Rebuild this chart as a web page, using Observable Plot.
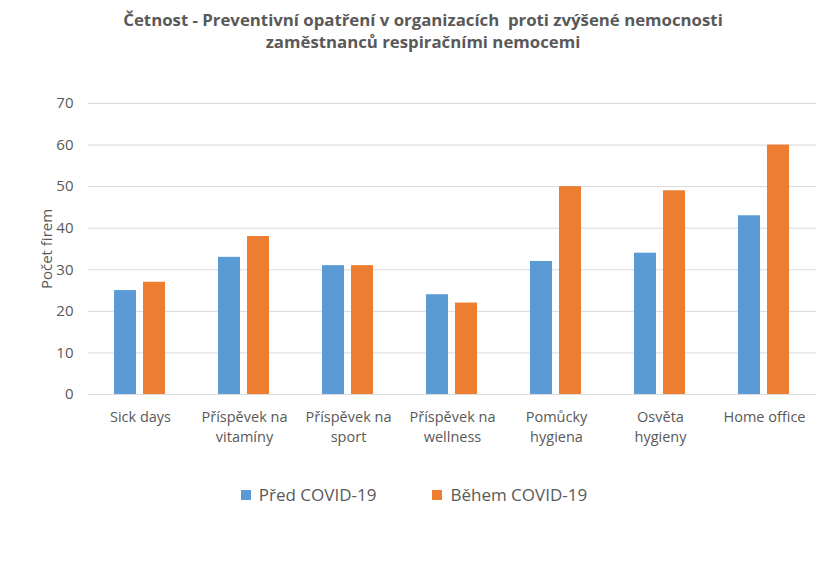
<!DOCTYPE html>
<html><head><meta charset="utf-8">
<script src="https://cdn.jsdelivr.net/npm/d3@7"></script>
<script src="https://cdn.jsdelivr.net/npm/@observablehq/plot@0.6"></script>
<style>
body{margin:0;background:#fff;width:836px;height:570px;position:relative;font-family:"Open Sans",sans-serif;color:#595959;overflow:hidden}
#title{position:absolute;top:9px;left:0;width:846px;text-align:center;font-weight:bold;font-size:16.8px;line-height:22px;color:#595959}
#chart{position:absolute;top:65px;left:0}
#legend{position:absolute;top:483px;left:0;width:828px;display:flex;justify-content:center;gap:0;font-size:17px;color:#595959}
.li{display:flex;align-items:center;margin:0 0px}
.sw{width:10px;height:10px;margin-right:8px}
</style></head><body>
<div id="title">Četnost - Preventivní opatření v organizacích&nbsp; proti zvýšené nemocnosti<br>zaměstnanců respiračními nemocemi</div>
<div id="chart"></div>
<div id="legend"></div>
<script>
const categories = ["Sick days","Příspěvek na vitamíny","Příspěvek na sport","Příspěvek na wellness","Pomůcky hygiena","Osvěta hygieny","Home office"];
const categoryLabels = ["Sick days","Příspěvek na\nvitamíny","Příspěvek na\nsport","Příspěvek na\nwellness","Pomůcky\nhygiena","Osvěta\nhygieny","Home office"];
const series = ["Před COVID-19","Během COVID-19"];
const predCovid = [25,33,31,24,32,34,43];
const behemCovid = [27,38,31,22,50,49,60];
const colors = ["#5B9BD5","#ED7D31"];
const yTicks = [0,10,20,30,40,50,60,70];

const data = [];
categories.forEach((c,i)=>{
  data.push({cat:c, s:series[0], v:predCovid[i]});
  data.push({cat:c, s:series[1], v:behemCovid[i]});
});
const labelMap = new Map(categories.map((c,i)=>[c,categoryLabels[i]]));

const chart = Plot.plot({
  width:836, height:390,
  marginLeft:88, marginRight:20, marginTop:38, marginBottom:61,
  style:{fontFamily:"'Open Sans',sans-serif", color:"#595959", fontSize:"14px", background:"#fff"},
  fx:{domain:categories, padding:0, label:null, axis:null},
  x:{domain:series, paddingInner:0.233, paddingOuter:0.85, axis:null},
  y:{domain:[0,70], ticks:yTicks, label:null},
  color:{domain:series, range:colors},
  marks:[
    Plot.gridY(yTicks,{stroke:"#d9d9d9", strokeOpacity:1, strokeWidth:1}),
    Plot.axisY(yTicks,{tickSize:0, tickPadding:15, fontSize:15, label:"Počet firem", labelAnchor:"center", labelArrow:"none", labelOffset:47}),
    Plot.axisFx({anchor:"bottom", tickSize:0, tickPadding:14, fontSize:14.5, lineHeight:1.35, label:null, tickFormat:d=>labelMap.get(d)}),
    Plot.barY(data,{fx:"cat", x:"s", y:"v", fill:"s"}),
    Plot.ruleY([0],{stroke:"#d9d9d9"})
  ]
});
document.getElementById("chart").appendChild(chart);

const lg = document.getElementById("legend");
series.forEach((s,i)=>{
  const d = document.createElement("div"); d.className="li";
  d.innerHTML = `<span class="sw" style="background:${colors[i]}"></span><span>${s}</span>`;
  if(i===0) d.style.marginRight="56px";
  lg.appendChild(d);
});
</script>
</body></html>
